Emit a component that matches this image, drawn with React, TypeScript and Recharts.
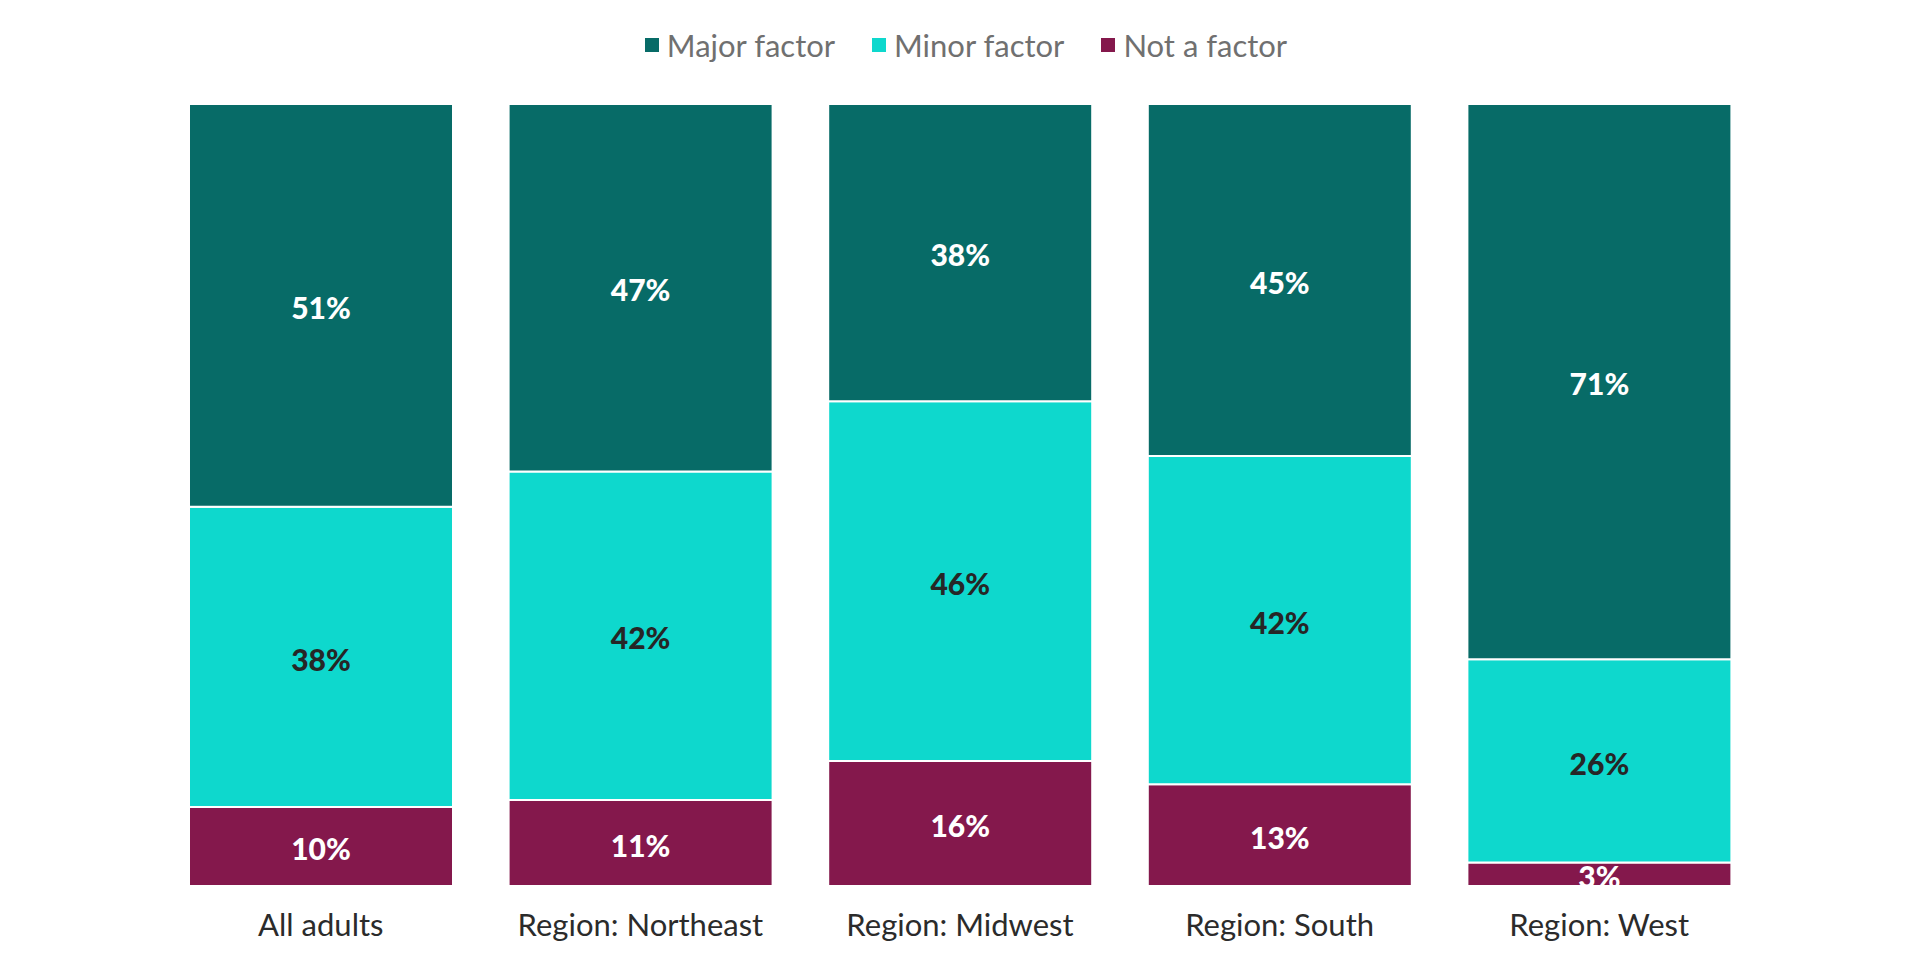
import React from 'react';
import { BarChart, Bar, XAxis, YAxis, LabelList, Legend } from 'recharts';

const categories = ['All adults', 'Region: Northeast', 'Region: Midwest', 'Region: South', 'Region: West'];
const majorFactor = [51, 47, 38, 45, 71];
const minorFactor = [38, 42, 46, 42, 26];
const notAFactor = [10, 11, 16, 13, 3];

const seriesNames = { major: 'Major factor', minor: 'Minor factor', not: 'Not a factor' };
const seriesColors = { major: '#076B67', minor: '#0ED8CD', not: '#84184C' };
const legendOrder: Array<'major' | 'minor' | 'not'> = ['major', 'minor', 'not'];

const data = categories.map((c, i) => ({
  name: c,
  major: majorFactor[i],
  minor: minorFactor[i],
  not: notAFactor[i],
}));

const FONT = 'Lato, "Open Sans", sans-serif';

const pct = (v: any) => `${v}%`;

const LegendContent = () => (
  <div
    style={{
      display: 'flex',
      justifyContent: 'center',
      alignItems: 'center',
      gap: 37,
      paddingLeft: 12,
      fontFamily: FONT,
      fontSize: 31,
      color: '#707070',
      lineHeight: '36px',
    }}
  >
    {legendOrder.map((k) => (
      <div key={k} style={{ display: 'flex', alignItems: 'center' }}>
        <span
          style={{
            display: 'inline-block',
            width: 14,
            height: 14,
            background: seriesColors[k],
            marginRight: 8,
          }}
        />
        <span>{seriesNames[k]}</span>
      </div>
    ))}
  </div>
);

export default function App() {
  return (
    <div style={{ position: 'absolute', left: 0, top: 0, width: 1920, height: 960, background: '#fff' }}>
      <BarChart
        width={1920}
        height={960}
        data={data}
        stackOffset="expand"
        margin={{ top: 104, right: 161, left: 161, bottom: 0 }}
      >
        <Legend
          verticalAlign="middle"
          align="center"
          layout="horizontal"
          content={<LegendContent />}
          wrapperStyle={{ top: 27, left: 0, width: 1920 }}
        />
        <XAxis
          dataKey="name"
          axisLine={false}
          tickLine={false}
          tickSize={0}
          tickMargin={28}
          height={74}
          interval={0}
          tick={{ fill: '#2b2b2b', fontSize: 31, fontFamily: FONT }}
        />
        <YAxis hide domain={[0, 1]} />
        <Bar dataKey="not" stackId="s" fill={seriesColors.not} stroke="#fff" strokeWidth={2} barSize={264} isAnimationActive={false}>
          <LabelList dataKey="not" position="center" formatter={pct} fill="#fff" fontSize={30} fontWeight={900} fontFamily={FONT} dy={3} />
        </Bar>
        <Bar dataKey="minor" stackId="s" fill={seriesColors.minor} stroke="#fff" strokeWidth={2} barSize={264} isAnimationActive={false}>
          <LabelList dataKey="minor" position="center" formatter={pct} fill="#262626" fontSize={30} fontWeight={900} fontFamily={FONT} dy={3} />
        </Bar>
        <Bar dataKey="major" stackId="s" fill={seriesColors.major} stroke="#fff" strokeWidth={2} barSize={264} isAnimationActive={false}>
          <LabelList dataKey="major" position="center" formatter={pct} fill="#fff" fontSize={30} fontWeight={900} fontFamily={FONT} dy={3} />
        </Bar>
      </BarChart>
    </div>
  );
}
